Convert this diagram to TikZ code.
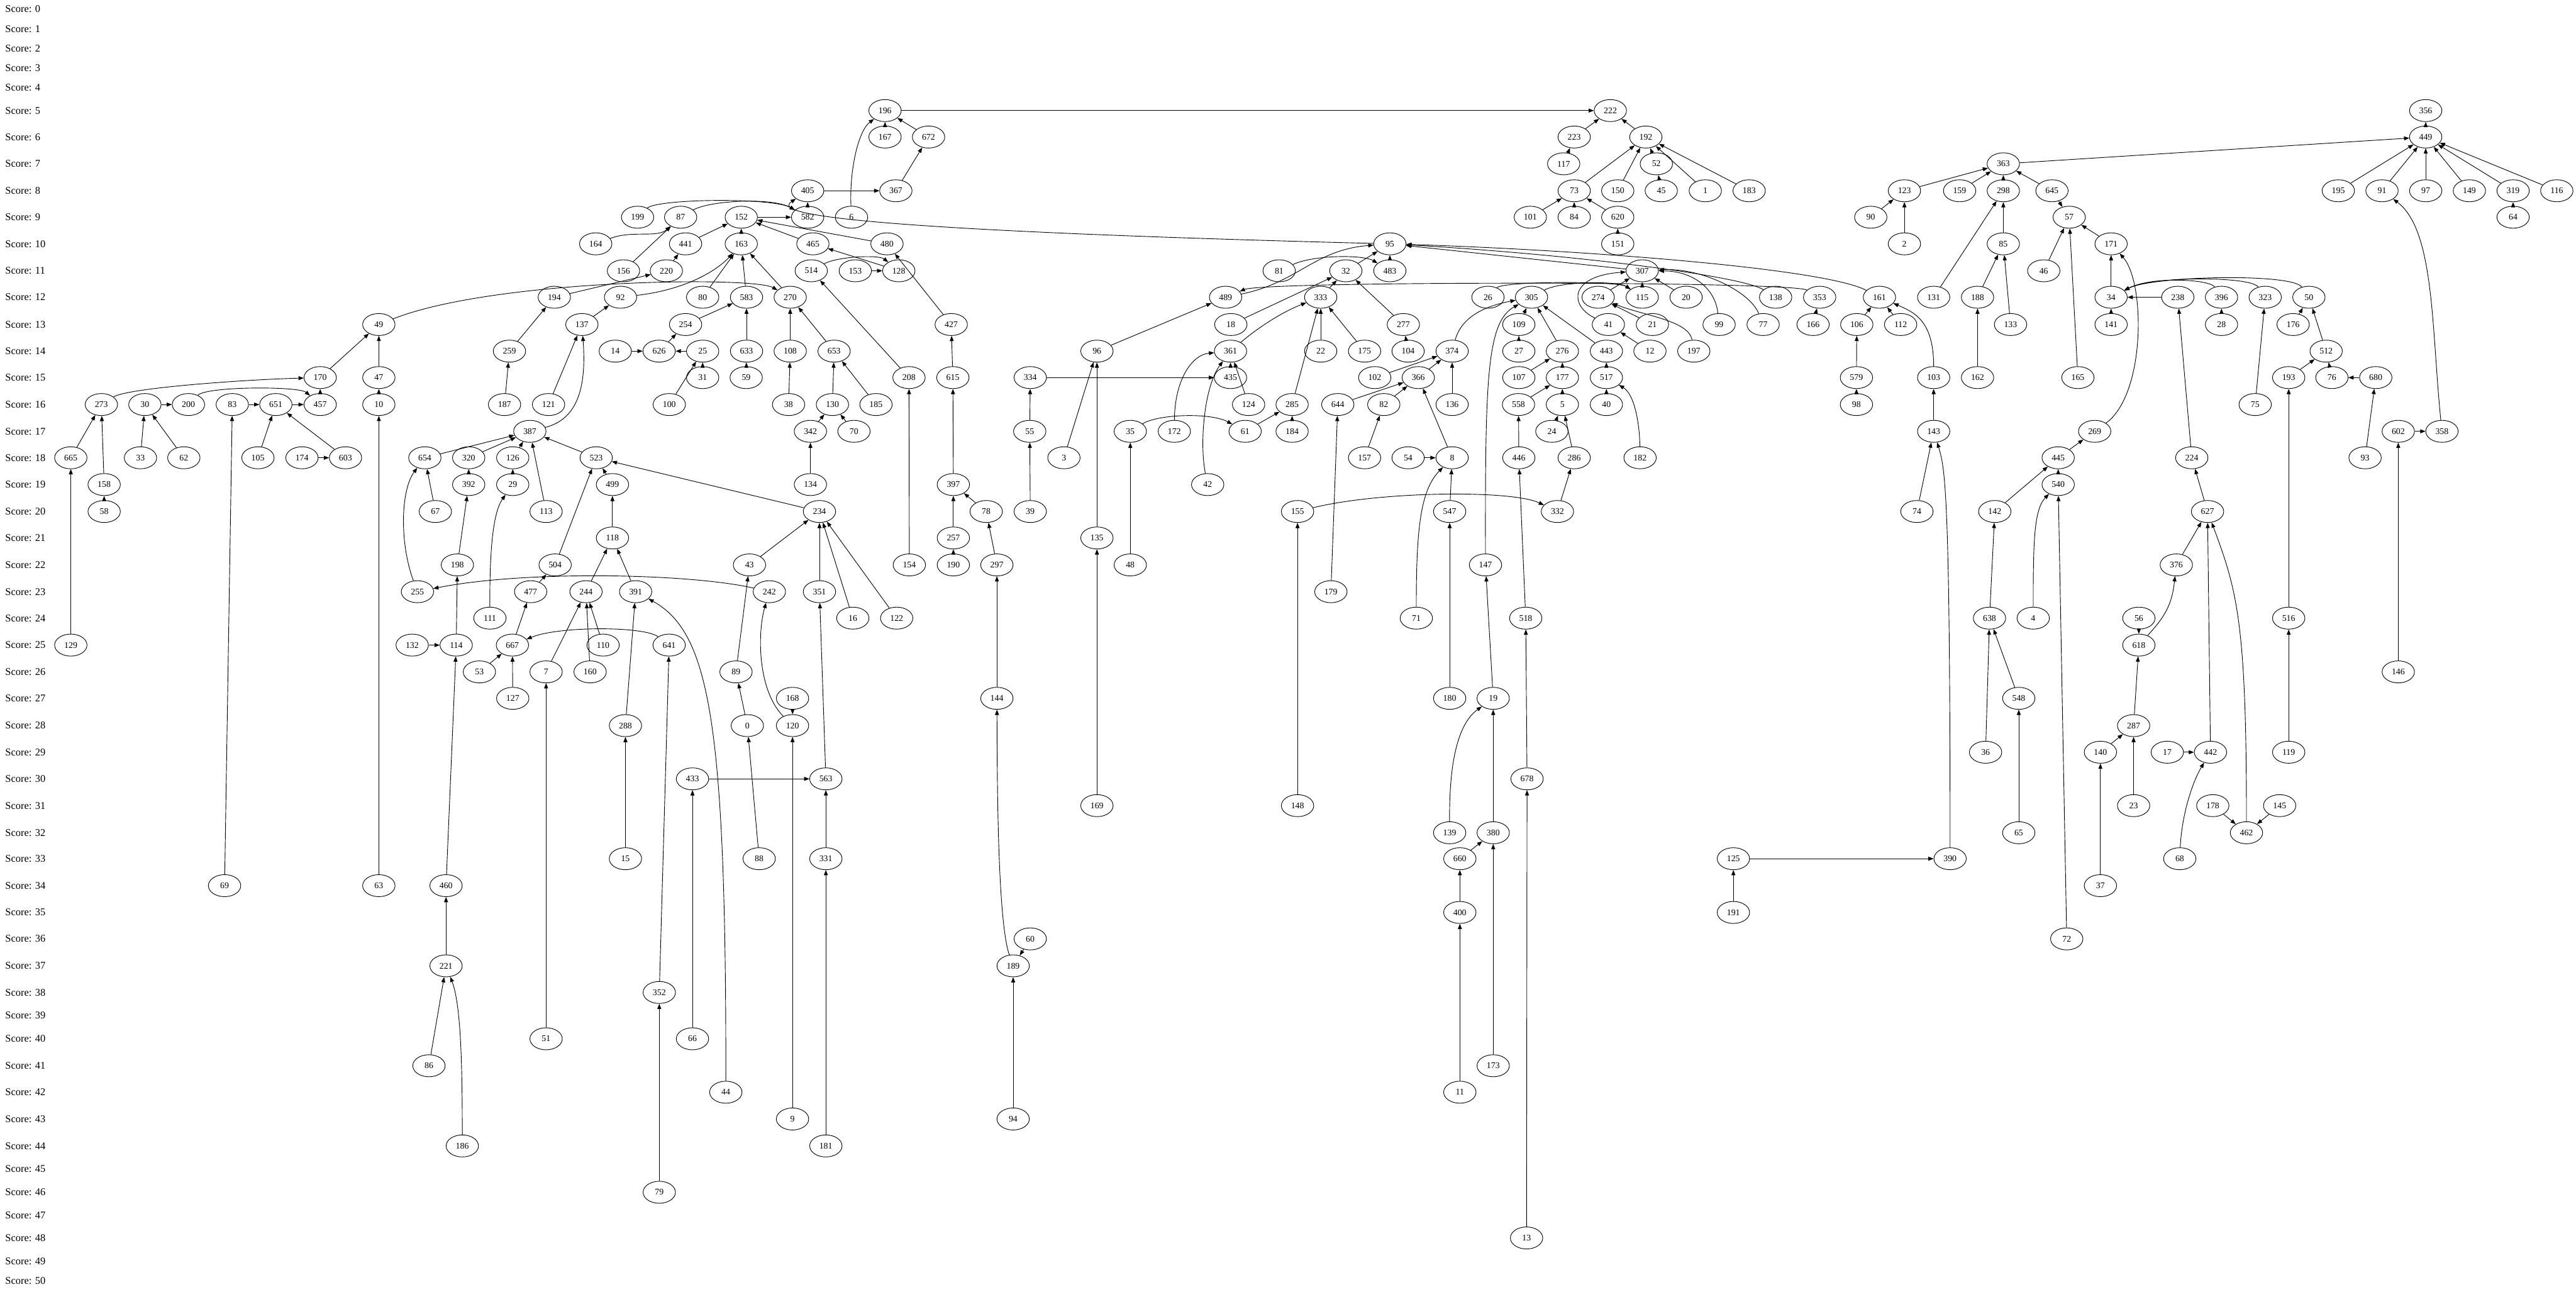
\documentclass[tikz,border=0pt]{standalone}
\usepackage{fontspec}
\setmainfont{Liberation Serif}
\usetikzlibrary{shapes.geometric,arrows.meta}
\tikzset{
  nd/.style={draw,ellipse,line width=0.35pt,minimum width=19.7pt,minimum height=13.4pt,inner sep=0pt,font=\fontsize{5.3}{6}\selectfont},
  lbl/.style={anchor=west,inner sep=0pt,font=\fontsize{6.3}{7}\selectfont},
  arr/.style={-{Triangle[length=3.2pt,width=2.4pt]},line width=0.35pt}
}
\begin{document}
\begin{tikzpicture}[x=1pt,y=1pt]
\useasboundingbox (0,0) rectangle (1568,-786);
\fill[white] (0,0) rectangle (1568,-786);
\foreach \s/\yy in {0/5.6,1/17.5,2/29.4,3/41.3,4/53.2,5/67.3,6/83.4,7/99.7,8/116.1,9/132.2,10/148.4,11/164.8,12/180.9,13/197.5,14/213.7,15/229.8,16/246.2,17/262.5,18/278.6,19/294.9,20/311.3,21/327.4,22/343.8,23/360.1,24/376.2,25/392.6,26/408.9,27/425.0,28/441.6,29/457.8,30/474.0,31/490.3,32/506.8,33/522.6,34/539.0,35/555.3,36/571.4,37/587.8,38/604.0,39/618.1,40/632.2,41/648.6,42/664.7,43/681.0,44/697.4,45/711.5,46/725.6,47/739.5,48/753.4,49/767.5,50/779.4}
  \node[lbl] (s\s) at (3,-\yy) {Score: \s};
% nodes: number/x/y
\foreach \n/\x/\y in {
196/538.7/67.3,222/980.2/67.3,356/1476.5/67.3,
167/538.7/83.4,672/565.2/83.4,223/958.2/83.4,192/1001.8/83.4,449/1476.5/83.4,
117/951.8/99.7,52/1008.2/99.7,363/1219.4/99.7,
405/491.6/116.1,367/545.3/116.1,73/958.2/116.1,150/984.7/116.1,45/1011.2/116.1,1/1038.0/116.1,183/1064.7/116.1,123/1159.2/116.1,159/1192.8/116.1,298/1219.4/116.1,645/1249.0/116.1,195/1423.3/116.1,91/1449.9/116.1,97/1476.5/116.1,149/1503.1/116.1,319/1529.7/116.1,116/1556.3/116.1,
199/388.1/132.2,87/414.3/132.2,152/451.2/132.2,582/491.6/132.2,6/518.3/132.2,101/931.5/132.2,84/958.2/132.2,620/984.7/132.2,90/1138.7/132.2,57/1259.5/132.2,64/1529.7/132.2,
164/362.6/148.4,441/417.3/148.4,163/451.2/148.4,465/494.8/148.4,480/539.9/148.4,95/846.0/148.4,151/984.7/148.4,2/1159.2/148.4,85/1219.4/148.4,171/1285.0/148.4,
156/379.5/164.8,220/405.6/164.8,514/493.8/164.8,153/520.6/164.8,128/547.1/164.8,81/778.6/164.8,32/819.2/164.8,483/846.0/164.8,307/999.6/164.8,46/1244.0/164.8,
194/337.4/180.9,92/377.7/180.9,80/427.7/180.9,583/454.4/180.9,270/481.0/180.9,489/746.0/180.9,333/803.9/180.9,26/905.7/180.9,305/932.2/180.9,274/972.8/180.9,115/999.6/180.9,20/1026.3/180.9,138/1080.8/180.9,353/1107.6/180.9,161/1144.0/180.9,131/1177.0/180.9,188/1203.7/180.9,34/1285.0/180.9,238/1325.6/180.9,396/1352.2/180.9,323/1378.8/180.9,50/1405.4/180.9,
49/230.6/197.5,137/354.2/197.5,254/417.3/197.5,427/579.0/197.5,18/749.2/197.5,277/854.2/197.5,109/924.5/197.5,41/979.0/197.5,21/1005.8/197.5,99/1046.4/197.5,77/1073.2/197.5,166/1103.6/197.5,106/1130.2/197.5,112/1156.9/197.5,133/1223.8/197.5,141/1285.0/197.5,28/1352.2/197.5,176/1395.8/197.5,
259/310.1/213.7,14/374.5/213.7,626/401.2/213.7,25/427.7/213.7,633/454.4/213.7,108/481.0/213.7,653/507.7/213.7,96/667.7/213.7,361/749.0/213.7,22/803.9/213.7,175/830.6/213.7,104/857.1/213.7,374/883.9/213.7,27/924.5/213.7,276/951.0/213.7,443/977.8/213.7,12/1004.3/213.7,197/1031.0/213.7,512/1415.9/213.7,
170/194.9/229.8,47/230.6/229.8,31/427.7/229.8,59/454.2/229.8,208/553.3/229.8,615/580.0/229.8,334/627.1/229.8,435/749.0/229.8,102/836.8/229.8,366/863.3/229.8,107/924.5/229.8,177/951.0/229.8,517/977.8/229.8,579/1130.0/229.8,103/1177.0/229.8,162/1203.7/229.8,165/1264.8/229.8,193/1393.1/229.8,76/1419.4/229.8,680/1446.1/229.8,
273/61.7/246.2,30/88.2/246.2,200/114.7/246.2,83/141.4/246.2,651/167.9/246.2,457/194.9/246.2,10/230.6/246.2,187/307.1/246.2,121/333.9/246.2,100/407.4/246.2,38/480.0/246.2,130/506.7/246.2,185/533.2/246.2,124/760.0/246.2,285/786.5/246.2,644/814.3/246.2,82/842.3/246.2,136/883.9/246.2,558/924.3/246.2,5/951.0/246.2,40/977.8/246.2,98/1130.0/246.2,75/1372.7/246.2,
387/322.5/262.5,342/493.3/262.5,70/519.8/262.5,55/626.8/262.5,35/688.0/262.5,172/714.8/262.5,61/757.9/262.5,184/786.5/262.5,24/944.6/262.5,143/1177.0/262.5,269/1275.0/262.5,602/1459.8/262.5,358/1486.4/262.5,
665/43.1/278.6,33/85.5/278.6,62/111.9/278.6,105/157.0/278.6,174/183.8/278.6,603/210.3/278.6,654/258.6/278.6,320/285.3/278.6,126/312.1/278.6,523/362.9/278.6,3/647.6/278.6,157/830.6/278.6,54/857.1/278.6,8/883.9/278.6,446/924.5/278.6,286/958.2/278.6,182/998.3/278.6,445/1252.8/278.6,224/1334.1/278.6,93/1439.6/278.6,
158/63.4/294.9,392/285.3/294.9,29/312.1/294.9,499/372.8/294.9,134/493.3/294.9,397/580.3/294.9,42/735.1/294.9,540/1252.8/294.9,
58/63.4/311.3,67/265.0/311.3,113/332.4/311.3,234/498.8/311.3,78/600.3/311.3,39/627.1/311.3,155/789.8/311.3,547/882.4/311.3,332/948.0/311.3,74/1166.8/311.3,142/1214.2/311.3,627/1343.7/311.3,
118/372.8/327.4,257/580.3/327.4,135/667.7/327.4,
198/278.4/343.8,504/337.9/343.8,43/456.2/343.8,154/553.5/343.8,190/580.3/343.8,297/606.8/343.8,48/688.0/343.8,147/904.2/343.8,376/1324.7/343.8,
255/254.1/360.1,477/323.0/360.1,244/356.7/360.1,391/386.9/360.1,242/468.3/360.1,351/498.8/360.1,179/810.1/360.1,
111/298.2/376.2,16/519.1/376.2,122/545.8/376.2,71/862.1/376.2,518/928.7/376.2,638/1211.0/376.2,4/1237.6/376.2,56/1301.9/376.2,516/1393.1/376.2,
129/43.1/392.6,132/250.9/392.6,114/277.7/392.6,667/311.9/392.6,110/367.1/392.6,641/407.3/392.6,618/1301.9/392.6,
53/291.8/408.9,7/332.4/408.9,160/359.2/408.9,89/448.0/408.9,146/1459.8/408.9,
127/312.1/425.0,168/482.4/425.0,144/606.8/425.0,180/882.4/425.0,19/908.9/425.0,548/1228.8/425.0,
288/380.7/441.6,0/454.9/441.6,120/482.4/441.6,287/1298.7/441.6,
36/1208.6/457.8,140/1278.5/457.8,17/1319.2/457.8,442/1345.5/457.8,119/1393.1/457.8,
433/421.5/474.0,563/502.7/474.0,678/929.5/474.0,
169/667.7/490.3,148/789.8/490.3,23/1298.7/490.3,178/1346.9/490.3,145/1387.6/490.3,
139/882.4/506.8,380/908.9/506.8,65/1228.8/506.8,462/1367.4/506.8,
15/380.7/522.6,88/462.1/522.6,331/502.7/522.6,660/888.6/522.6,125/1055.1/522.6,390/1187.0/522.6,68/1326.8/522.6,
69/136.7/539.0,63/230.6/539.0,460/271.5/539.0,37/1278.5/539.0,
400/888.6/555.3,191/1055.1/555.3,
60/627.1/571.4,72/1258.0/571.4,
221/271.5/587.8,189/616.7/587.8,
352/401.3/604.0,
51/332.4/632.2,66/421.5/632.2,
86/261.1/648.6,173/908.9/648.6,
44/441.8/664.7,11/888.6/664.7,
9/482.4/681.0,94/616.7/681.0,
186/281.4/697.4,181/502.7/697.4,
79/401.3/725.6,
13/929.2/753.4}
  \node[nd] (n\n) at (\x,-\y) {\n};
% straight connectors
\foreach \a/\b in {196/222,167/196,672/196,223/222,192/222,117/223,73/192,150/192,52/192,1/192,183/192,45/52,101/73,84/73,620/73,151/620,449/356,363/449,195/449,91/449,97/449,149/449,319/449,116/449,64/319,602/358,146/602,123/363,159/363,298/363,645/363,90/123,2/123,131/298,85/298,188/85,133/85,162/188,46/57,165/57,171/57,34/171,141/34,238/34,28/396,75/323,176/50,512/50,193/512,76/512,680/76,93/680,224/238,627/224,376/627,442/627,56/618,287/618,140/287,23/287,37/140,17/442,178/462,145/462,516/193,119/516,106/161,112/161,579/106,98/579,143/103,74/143,125/390,191/125,445/269,142/445,540/445,72/540,638/142,36/638,548/638,65/548,307/95,32/95,483/95,18/32,333/32,277/32,104/277,22/333,175/333,285/333,184/285,61/285,48/35,435/361,124/361,334/435,55/334,39/55,96/489,3/96,135/96,169/135,115/307,274/307,20/307,12/41,21/274,109/305,276/305,443/305,166/353,27/109,107/276,177/276,558/177,5/177,446/558,24/5,286/5,332/286,148/155,517/443,40/517,518/446,678/518,13/678,102/374,366/374,136/374,644/366,82/366,8/366,179/644,157/82,54/8,547/8,180/547,19/147,380/19,660/380,173/380,400/660,11/400,405/367,367/672,582/405,152/582,441/152,163/152,465/152,480/152,156/87,220/441,194/220,259/194,187/259,128/465,153/128,208/514,154/208,427/480,615/427,397/615,257/397,78/397,190/257,297/78,144/297,60/189,94/189,80/163,583/163,270/163,254/583,633/583,626/254,14/626,25/626,31/25,100/25,59/633,108/270,653/270,38/108,130/653,185/653,342/130,70/130,134/342,137/92,121/137,654/387,320/387,126/387,113/387,523/387,67/654,392/320,198/392,114/198,132/114,460/114,221/460,86/221,29/126,504/523,499/523,234/523,477/504,667/477,53/667,127/667,352/641,79/352,118/499,244/118,391/118,7/244,160/244,110/244,51/7,288/391,15/288,168/120,9/120,43/234,351/234,16/234,122/234,89/43,0/89,88/0,563/351,433/563,331/563,66/433,181/331,170/49,47/49,10/47,63/10,457/170,665/273,158/273,58/158,30/200,33/30,62/30,83/651,651/457,69/83,105/651,603/651,174/603,129/665,645/57}
  \draw[arr] (n\a) -- (n\b);
% curved connectors
\draw[arr] (n6) .. controls (517,-105) and (522,-80) .. (n196);
\draw[arr] (n199) .. controls (400,-121) and (470,-120) .. (n582);
\draw[arr] (n87) .. controls (432,-122) and (470,-120) .. (n582);
\draw[arr] (n164) .. controls (385,-140) and (400,-145) .. (n87);
\draw[arr] (n95) .. controls (478,-139) and (474,-128) .. (n405);
\draw[arr] (n49) .. controls (300,-170) and (458,-168) .. (n270);
\draw[arr] (n92) .. controls (420,-176) and (438,-163) .. (n163);
\draw[arr] (n387) .. controls (352,-255) and (357,-235) .. (n137);
\draw[arr] (n273) .. controls (78,-236) and (150,-231) .. (n170);
\draw[arr] (n200) .. controls (126,-235) and (182,-235) .. (n457);
\draw[arr] (n255) .. controls (243,-330) and (244,-298) .. (n654);
\draw[arr] (n111) .. controls (298,-335) and (300,-312) .. (n29);
\draw[arr] (n242) .. controls (420,-349) and (320,-347) .. (n255);
\draw[arr] (n641) .. controls (392,-381) and (340,-381) .. (n667);
\draw[arr] (n44) .. controls (442,-440) and (432,-385) .. (n391);
\draw[arr] (n186) .. controls (281.4,-640) and (280,-610) .. (n221);
\draw[arr] (n120) .. controls (461,-420) and (461,-385) .. (n242);
\draw[arr] (n189) .. controls (607,-560) and (607,-470) .. (n144);
\draw[arr] (n42) .. controls (730,-270) and (733,-235) .. (n361);
\draw[arr] (n172) .. controls (715,-232) and (725,-216) .. (n361);
\draw[arr] (n35) .. controls (705,-252) and (737,-251) .. (n61);
\draw[arr] (n71) .. controls (862,-320) and (865,-298) .. (n8);
\draw[arr] (n147) .. controls (904,-230) and (905,-196) .. (n305);
\draw[arr] (n139) .. controls (882,-462) and (888,-440) .. (n19);
\draw[arr] (n155) .. controls (840,-299) and (920,-298) .. (n332);
\draw[arr] (n182) .. controls (998,-258) and (995,-240) .. (n517);
\draw[arr] (n41) .. controls (955,-186) and (955,-168) .. (n307);
\draw[arr] (n197) .. controls (1028,-195) and (1000,-192) .. (n274);
\draw[arr] (n99) .. controls (1044,-175) and (1030,-165) .. (n307);
\draw[arr] (n77) .. controls (1065,-177) and (1035,-163) .. (n307);
\draw[arr] (n138) .. controls (1060,-168) and (960,-155) .. (n95);
\draw[arr] (n161) .. controls (1110,-163) and (960,-152) .. (n95);
\draw[arr] (n269) .. controls (1306,-240) and (1306,-172) .. (n171);
\draw[arr] (n358) .. controls (1480,-200) and (1482,-140) .. (n91);
\draw[arr] (n396) .. controls (1345,-170) and (1310,-168) .. (n34);
\draw[arr] (n323) .. controls (1370,-168) and (1310,-168) .. (n34);
\draw[arr] (n50) .. controls (1395,-166) and (1310,-168) .. (n34);
\draw[arr] (n103) .. controls (1177,-195) and (1165,-190) .. (n161);
\draw[arr] (n4) .. controls (1237.6,-330) and (1238,-310) .. (n540);
\draw[arr] (n68) .. controls (1328,-495) and (1335,-475) .. (n442);
\draw[arr] (n462) .. controls (1367.4,-380) and (1362,-360) .. (n627);
\draw[arr] (n618) .. controls (1318,-375) and (1322,-368) .. (n376);
\draw[arr] (n390) .. controls (1187,-300) and (1184,-285) .. (n143);
\draw[arr] (n514) .. controls (510,-156) and (535,-155) .. (n128);
\draw[arr] (n81) .. controls (800,-155) and (830,-155) .. (n483);
\draw[arr] (n361) .. controls (765,-200) and (780,-190) .. (n333);
\draw[arr] (n374) .. controls (889,-195) and (900,-187) .. (n305);
\draw[arr] (n489) .. controls (790,-172) and (800,-152) .. (n95);
\draw[arr] (n353) .. controls (1090,-171) and (770,-171) .. (n489);
\draw[arr] (n305) .. controls (950,-171) and (985,-171) .. (n115);
\draw[arr] (n26) .. controls (915,-171) and (985,-171) .. (n115);
\end{tikzpicture}
\end{document}
